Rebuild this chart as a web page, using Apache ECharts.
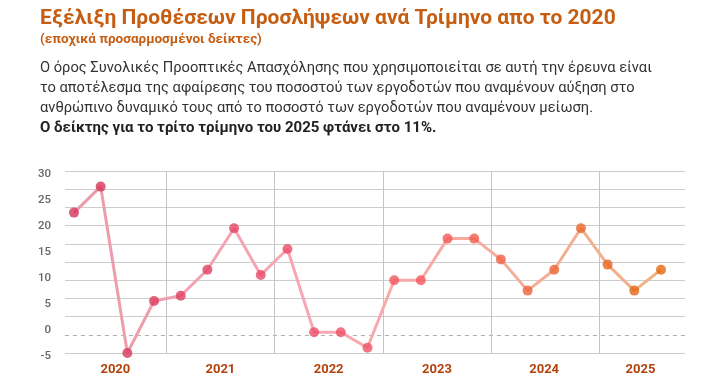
<!DOCTYPE html>
<html><head><meta charset="utf-8">
<script src="https://cdn.jsdelivr.net/npm/echarts@6/dist/echarts.min.js"></script>
<style>html,body{margin:0;padding:0;background:#fff}#c{width:722px;height:392px}</style>
</head><body><div id="c"></div>
<script>
// ---- data ----
const quarters = ['2020 Q1','2020 Q2','2020 Q3','2020 Q4','2021 Q1','2021 Q2','2021 Q3','2021 Q4',
  '2022 Q1','2022 Q2','2022 Q3','2022 Q4','2023 Q1','2023 Q2','2023 Q3','2023 Q4',
  '2024 Q1','2024 Q2','2024 Q3','2024 Q4','2025 Q1','2025 Q2','2025 Q3'];
const values = [22, 27, -5, 5, 6, 11, 19, 10, 15, -1, -1, -4, 9, 9, 17, 17, 13, 7, 11, 19, 12, 7, 11];
const years = ['2020','2021','2022','2023','2024','2025'];
const yTickLabels = [-5, 0, 5, 10, 15, 20, 25, 30];

const titleText = 'Εξέλιξη Προθέσεων Προσλήψεων ανά Τρίμηνο απο το 2020';
const subtitleText = '(εποχικά προσαρμοσμένοι δείκτες)';
const bodyLines = [
  'Ο όρος Συνολικές Προοπτικές Απασχόλησης που χρησιμοποιείται σε αυτή την έρευνα είναι',
  'το αποτέλεσμα της αφαίρεσης του ποσοστού των εργοδοτών που αναμένουν αύξηση στο',
  'ανθρώπινο δυναμικό τους από το ποσοστό των εργοδοτών που αναμένουν μείωση.'
];
const boldLine = 'Ο δείκτης για το τρίτο τρίμηνο του 2025 φτάνει στο 11%.';

// ---- chart ----
const points = values.map((v, i) => [i, v, quarters[i]]);
const chart = echarts.init(document.getElementById('c'), null, {renderer: 'canvas'});
const font = 'Roboto, "Noto Sans", sans-serif';
const gridColors = [];
const dashColors = [];
for (let i = 0; i <= 10; i++) { gridColors.push(i === 1 ? 'transparent' : '#cdcdcd'); dashColors.push(i === 1 ? '#b0b0b0' : 'transparent'); }

chart.setOption({
  animation: false,
  backgroundColor: '#fff',
  textStyle: {fontFamily: font},
  title: [
    {text: titleText, left: 40, top: 8, padding: 0,
      textStyle: {fontFamily: font, fontSize: 21, fontWeight: 'bold', color: '#c55e12'}},
    {text: subtitleText, left: 40, top: 33, padding: 0,
      textStyle: {fontFamily: font, fontSize: 13.5, fontWeight: 'bold', color: '#c55e12'}},
    {text: bodyLines.join('\n'), left: 40, top: 58, padding: 0,
      textStyle: {fontFamily: font, fontSize: 14.7, fontWeight: 'normal', color: '#333', lineHeight: 20}},
    {text: boldLine, left: 40, top: 118, padding: 0,
      textStyle: {fontFamily: font, fontSize: 15, fontWeight: 'bold', color: '#222', lineHeight: 20}}
  ],
  grid: {left: 65, right: 37, top: 171, bottom: 39, containLabel: false},
  xAxis: [
    {type: 'value', min: -0.337, max: 22.9, show: false},
    {type: 'value', min: 0.065, max: 5.791, position: 'bottom',
      axisLine: {show: false},
      axisTick: {show: false, customValues: [1, 2, 3, 4, 5]},
      splitLine: {show: true, lineStyle: {color: '#c4c4c4', width: 1}},
      axisLabel: {customValues: [0.53, 1.5, 2.5, 3.5, 4.49, 5.38],
        formatter: v => years[Math.round(v - 0.5)],
        color: '#b4420c', fontWeight: 'bold', fontSize: 13, margin: 10, fontFamily: font}}
  ],
  yAxis: [
    {type: 'value', min: yTickLabels[0], max: yTickLabels[yTickLabels.length - 1], interval: 5,
      axisLine: {show: false}, axisTick: {show: false}, splitLine: {show: false},
      axisLabel: {color: '#666', fontSize: 11.5, fontWeight: 500, margin: 14, verticalAlign: 'top',
        padding: [-3, 0, 0, 0], fontFamily: font}},
    {type: 'value', min: 0, max: 10, interval: 1, position: 'left',
      axisLine: {show: false}, axisTick: {show: false}, axisLabel: {show: false},
      splitLine: {show: true, lineStyle: {color: gridColors, width: 1}}},
    {type: 'value', min: 0, max: 10, interval: 1, position: 'left',
      axisLine: {show: false}, axisTick: {show: false}, axisLabel: {show: false},
      splitLine: {show: true, lineStyle: {color: dashColors, width: 1, type: [4, 4]}}}
  ],
  visualMap: [
    {show: false, type: 'continuous', seriesIndex: 0, dimension: 0, min: 0, max: 22,
      inRange: {color: ['#eb9aab', '#f2a1b1', '#f7a7b6', '#f8aaa4', '#f3ae94', '#f0b286']}},
    {show: false, type: 'continuous', seriesIndex: 1, dimension: 0, min: 0, max: 22,
      inRange: {color: ['#d2345a', '#e0405f', '#ef4d6b', '#f3595c', '#ec6638', '#e2680e']}}
  ],
  series: [
    {type: 'line', data: points, xAxisIndex: 0, yAxisIndex: 0, symbol: 'none',
      lineStyle: {width: 3}, z: 3},
    {type: 'scatter', data: points, xAxisIndex: 0, yAxisIndex: 0, symbolSize: 10, z: 4}
  ]
});
</script></body></html>
